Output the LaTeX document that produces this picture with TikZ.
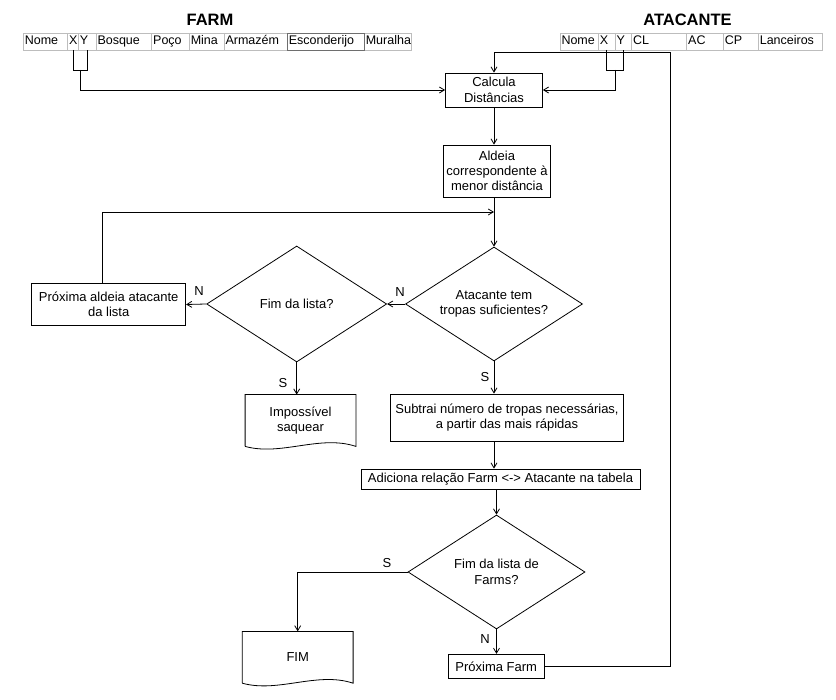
\documentclass[tikz,border=0pt]{standalone}
\usepackage{fontspec}
\setmainfont{Liberation Sans}
\usetikzlibrary{positioning,arrows.meta,calc,shapes.geometric}
\definecolor{cellrule}{HTML}{BDBDBD}
\definecolor{cellsel}{HTML}{6E6E6E}

\begin{document}
\begin{tikzpicture}[x=1pt,y=-1pt,line width=0.8pt,
  font=\fontsize{13}{15.3}\selectfont,
  box/.style={draw,align=center,inner sep=2pt},
  dec/.style={draw,diamond,aspect=1.55,align=center,inner sep=1pt,minimum width=177pt,minimum height=114pt},
  doc/.style={align=center,inner sep=0pt,minimum width=110pt,minimum height=51pt},
  cell/.style={draw=cellrule,text width=#1,align=left,inner xsep=1.5pt,inner ysep=0pt,outer sep=0pt,
               text height=9.5pt,text depth=3pt,minimum height=17pt,font=\fontsize{12.5}{14}\selectfont},
  ttl/.style={font=\bfseries\fontsize{16.5}{18}\selectfont},
  lbl/.style={inner sep=0pt},
  a/.style={-{Straight Barb[length=5pt,width=6pt]}}]
\path[use as bounding box,fill=white] (0,0) rectangle (836,700);
\node[ttl] (farmt) at (210,20) {FARM};
\node[ttl] (atkt) at (687.5,20) {ATACANTE};
\coordinate (f0) at (23.3,41.5);
\foreach \t/\w [count=\i,remember=\i as \j (initially 0)] in
  {Nome/41.4pt,X/7.6pt,Y/14.7pt,Bosque/52.7pt,Poço/34.6pt,Mina/31.7pt,Armazém/60.3pt,Esconderijo/74pt,Muralha/44.4pt}
  \node[cell=\w,right=0pt of f\j] (f\i) {\t};
\draw[cellsel] (f8.north west) rectangle (f8.south east);
\coordinate (a0) at (560,41.5);
\foreach \t/\w [count=\i,remember=\i as \j (initially 0)] in
  {Nome/35.3pt,X/13.7pt,Y/13.7pt,CL/52pt,AC/33.6pt,CP/32pt,Lanceiros/61.4pt}
  \node[cell=\w,right=0pt of a\j] (a\i) {\t};

\node[box,minimum width=97pt,minimum height=34pt] (calc) at (494,90) {Calcula\\Distâncias};
\node[box,minimum width=107pt,minimum height=52pt] (ald) at (497,171) {Aldeia\\correspondente à\\menor distância};
\node[dec] (atk) at (494,304) {Atacante tem\\tropas suficientes?};
\node[dec,minimum width=180pt,minimum height=116pt] (fim) at (296.7,304) {Fim da lista?};
\node[box,minimum width=154pt,minimum height=42pt] (prox) at (108.7,304.5) {Próxima aldeia atacante\\da lista};
\node[doc] (imp) at (300.5,420.5) {Impossível\\saquear};
\node[box,minimum width=233pt,minimum height=47pt] (sub) at (507,417.5) {Subtrai número de tropas necessárias,\\a partir das mais rápidas};
\node[box,minimum width=279pt,minimum height=20pt] (adi) at (500.5,479) {Adiciona relação Farm <-> Atacante na tabela};
\node[dec] (farms) at (496.5,572) {Fim da lista de\\Farms?};
\node[doc] (fimd) at (297.7,657.3) {FIM};
\node[box,minimum width=96pt,minimum height=24pt] (pf) at (496.2,666.3) {Próxima Farm};
\draw (imp.south west) -- (imp.north west) -- (imp.north east) -- (imp.south east)
  .. controls +(-36,-12) and +(36,10) .. (imp.south west);
\draw (fimd.south west) -- (fimd.north west) -- (fimd.north east) -- (fimd.south east)
  .. controls +(-36,-12) and +(36,10) .. (fimd.south west);

\node[lbl] (n1) at (199,291) {N};
\node[lbl] (n2) at (400,292) {N};
\node[lbl] (s1) at (283,383) {S};
\node[lbl] (s2) at (485,377) {S};
\node[lbl] (s3) at (387,563) {S};
\node[lbl] (n3) at (485,639) {N};

\draw (f2.south) -- ++(0,20) -| (f3.south);
\coordinate (fxy) at ($(f2.south)!.5!(f3.south)+(0,20)$);
\draw[a] (fxy) |- (calc.west);
\draw (a2.south) -- ++(0,20) -| (a3.south);
\coordinate (axy) at ($(a2.south)!.5!(a3.south)+(0,20)$);
\draw[a] (axy) |- (calc.east);
\draw[a] (calc.south) -- (calc.south |- ald.north);
\coordinate (join) at (494,212);
\draw[a] (ald.south -| atk.north) -- (atk.north);
\draw[a] ([xshift=-6pt]prox.north) |- (join);
\draw[a] (atk.west) -- (fim.east);
\draw[a] (fim.west) -- (prox.east);
\draw[a] (fim.south) -- (fim.south |- imp.north);
\draw[a] (atk.south) -- (atk.south |- sub.north);
\draw[a] (sub.south -| atk.south) -- (atk.south |- adi.north);
\draw[a] (adi.south -| farms.north) -- (farms.north);
\draw[a] (farms.west) -| (fimd.north);
\draw[a] (farms.south) -- (farms.south |- pf.north);
\coordinate (back) at (670,52);
\draw[a] (pf.east) -| (back) -| (calc.north);
\end{tikzpicture}
\end{document}
